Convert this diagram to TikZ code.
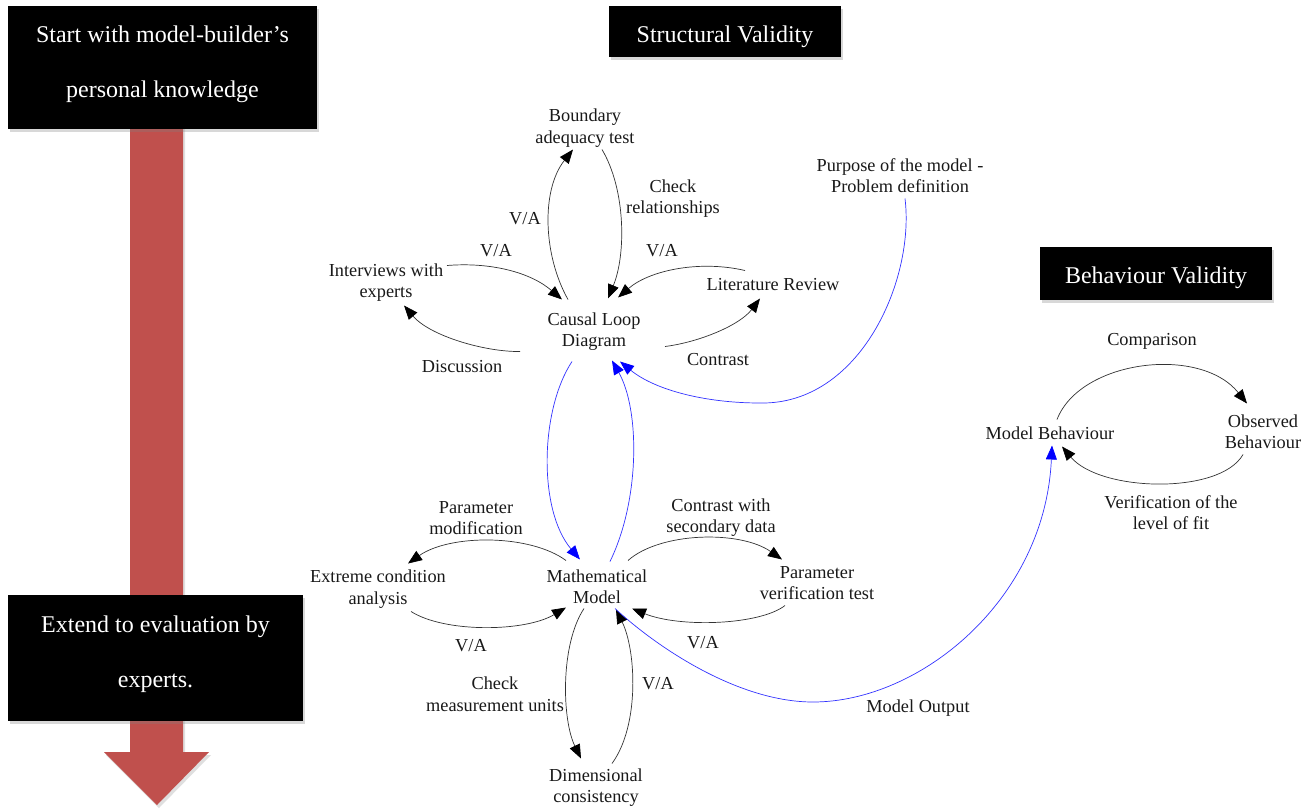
\documentclass[tikz,border=0pt]{standalone}
\usepackage{fontspec}
\setmainfont{Liberation Serif}
\usetikzlibrary{arrows.meta,shadows}
\definecolor{arrowred}{RGB}{192,80,77}

\begin{document}
\begin{tikzpicture}[x=1pt,y=-1pt,
  lbl/.style={font=\fontsize{18.3}{21.5}\selectfont, align=center, inner sep=0pt, text=black!90, yshift=-1.5pt},
  hdr/.style={fill=black, draw=none, inner sep=0pt,
    drop shadow={shadow xshift=2pt, shadow yshift=-3pt, opacity=0.3}},
  hdrtext/.style={font=\fontsize{24}{55}\selectfont, text=white, align=center, inner sep=0pt},
  flow/.style={draw=black!80, line width=0.7pt, -{Triangle[length=14pt,width=11pt,color=black]}},
  blueflow/.style={draw=blue!80, line width=0.7pt, -{Triangle[length=14pt,width=11pt,color=blue]}},
]
\useasboundingbox (0,0) rectangle (1312,809);
\fill[white] (0,0) rectangle (1312,809);

% big downward arrow behind the two black boxes
\fill[arrowred, drop shadow={shadow xshift=2pt, shadow yshift=-3pt, opacity=0.25}]
  (130,120) -- (183,120) -- (183,752) -- (209,752) -- (157,805) -- (104,752) -- (130,752) -- cycle;

% black header boxes
\node[hdr, minimum width=309pt, minimum height=123pt] (startbox) at (162.5,67.5) {};
\node[hdrtext] (starttext) at ([yshift=3.5pt]startbox.center) {Start with model-builder’s\\personal knowledge};
\node[hdr, minimum width=295pt, minimum height=126pt] (extbox) at (155.5,658) {};
\node[hdrtext] (exttext) at ([yshift=4pt]extbox.center) {Extend to evaluation by\\experts.};
\node[hdr, minimum width=232pt, minimum height=51pt] (svbox) at (725,31.5) {};
\node[hdrtext] (svtext) at (725,36.6) {Structural Validity};
\node[hdr, minimum width=232pt, minimum height=53pt] (bvbox) at (1156,273.5) {};
\node[hdrtext] (bvtext) at (1156,277.6) {Behaviour Validity};

% structural validity: causal loop diagram cluster
\node[lbl] (bat) at (585,126.5) {Boundary\\adequacy test};
\node[lbl] (chk) at (673,197) {Check\\relationships};
\node[lbl] (va1) at (525,217) {V/A};
\node[lbl] (va2) at (496,249) {V/A};
\node[lbl] (va3) at (662,249) {V/A};
\node[lbl] (iwe) at (386,281) {Interviews with\\experts};
\node[lbl] (lit) at (773,283) {Literature Review};
\node[lbl] (cld) at (594,330) {Causal Loop\\Diagram};
\node[lbl] (disc) at (462,365) {Discussion};
\node[lbl] (contr) at (718,358) {Contrast};
\node[lbl] (pur) at (900,174) {Purpose of the model -\\Problem definition};

% mathematical model cluster
\node[lbl] (pmod) at (476,516.5) {Parameter\\modification};
\node[lbl] (csd) at (721,516) {Contrast with\\secondary data};
\node[lbl] (eca) at (378,587.5) {Extreme condition\\analysis};
\node[lbl] (mm) at (597,585) {Mathematical\\Model};
\node[lbl] (pvt) at (817,581.5) {Parameter\\verification test};
\node[lbl] (va4) at (471,644) {V/A};
\node[lbl] (va5) at (703,641) {V/A};
\node[lbl] (cmu) at (495,692.5) {Check\\measurement units};
\node[lbl] (va6) at (658,682) {V/A};
\node[lbl] (dim) at (596,786) {Dimensional\\consistency};
\node[lbl] (mo) at (918,707) {Model Output};

% behaviour validity loop
\node[lbl] (cmp) at (1152,340) {Comparison};
\node[lbl] (mb) at (1050,432) {Model Behaviour};
\node[lbl] (ob) at (1263,430) {Observed\\Behaviour};
\node[lbl] (vlf) at (1171,511) {Verification of the\\level of fit};

% connectors around the causal loop diagram
\draw[flow] ([shift={(-26,-32)}]cld.center) .. controls (543,255) and (541,190) .. ([shift={(-12,21.5)}]bat.center);
\draw[flow] ([shift={(17,21.5)}]bat.center) .. controls (626,190) and (626,255) .. ([shift={(14,-33)}]cld.center);
\draw[flow] ([shift={(61,-17)}]iwe.center) .. controls (490,262) and (530,272) .. ([shift={(-32,-32)}]cld.center);
\draw[flow] ([shift={(-74,20)}]cld.center) .. controls (485,352) and (430,336) .. ([shift={(18,23)}]iwe.center);
\draw[flow] ([shift={(-28,-14)}]lit.center) .. controls (700,260) and (650,270) .. ([shift={(24,-34)}]cld.center);
\draw[flow] ([shift={(71,15)}]cld.center) .. controls (700,342) and (740,325) .. ([shift={(-13,14)}]lit.center);
\draw[blueflow] ([shift={(5,23)}]pur.center) .. controls (915,280) and (860,405) .. (760,403)
  .. controls (705,403) and (655,390) .. ([shift={(26,30)}]cld.center);
\draw[blueflow] ([shift={(-22,30)}]cld.center) .. controls (540,410) and (538,510) .. ([shift={(-17,-27)}]mm.center);
\draw[blueflow] ([shift={(13,-25)}]mm.center) .. controls (640,500) and (640,410) .. ([shift={(18,29)}]cld.center);

% connectors around the mathematical model
\draw[flow] ([shift={(-31,-26)}]mm.center) .. controls (530,534) and (450,534) .. ([shift={(30,-25.5)}]eca.center);
\draw[flow] ([shift={(33,22.5)}]eca.center) .. controls (445,633) and (525,632) .. ([shift={(-31,21)}]mm.center);
\draw[flow] ([shift={(31,-26)}]mm.center) .. controls (660,532) and (740,530) .. ([shift={(-35,-23.5)}]pvt.center);
\draw[flow] ([shift={(-32,22.5)}]pvt.center) .. controls (760,625) and (680,628) .. ([shift={(35,22)}]mm.center);
\draw[flow] ([shift={(-13,22)}]mm.center) .. controls (560,645) and (562,720) .. ([shift={(-15,-29)}]dim.center);
\draw[flow] ([shift={(16,-24)}]dim.center) .. controls (640,725) and (636,650) .. ([shift={(19,23)}]mm.center);
\draw[blueflow] ([shift={(18,22)}]mm.center) .. controls (660,650) and (740,702) .. (813,702)
  .. controls (920,702) and (1045,600) .. ([shift={(2,12)}]mb.center);

% behaviour comparison loop
\draw[flow] ([shift={(7,-14)}]mb.center) .. controls (1080,360) and (1200,345) .. ([shift={(-16,-28)}]ob.center);
\draw[flow] ([shift={(-20,23)}]ob.center) .. controls (1220,495) and (1100,492) .. ([shift={(12,13)}]mb.center);
\end{tikzpicture}
\end{document}
